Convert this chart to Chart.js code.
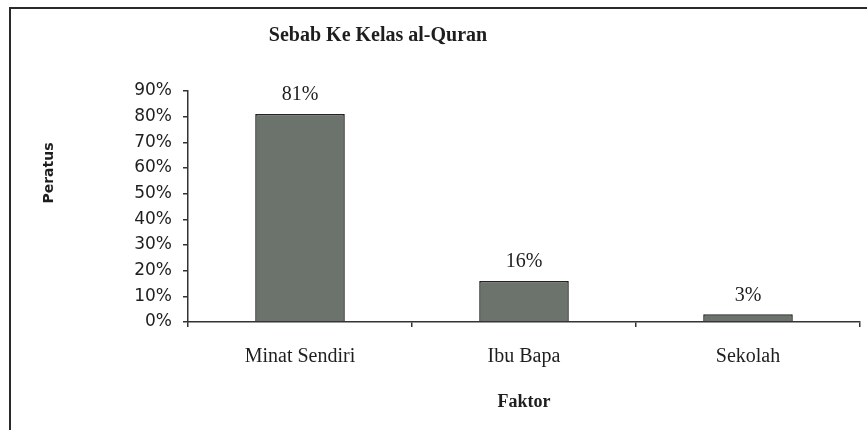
<!DOCTYPE html>
<html>
<head>
<meta charset="utf-8">
<script src="https://cdn.jsdelivr.net/npm/chart.js@4"></script>
<style>
  html, body { margin: 0; padding: 0; background: #fff; }
  #wrap { position: relative; width: 867px; height: 430px; }
</style>
</head>
<body>
<div id="wrap"><canvas id="chart" width="867" height="430"></canvas></div>
<script>
// Chart data
const categories = ["Minat Sendiri", "Ibu Bapa", "Sekolah"];
const percentValues = [81, 16, 3];
const yTicks = [0, 10, 20, 30, 40, 50, 60, 70, 80, 90];
const chartTitle = "Sebab Ke Kelas al-Quran";
const yTitle = "Peratus";
const xTitle = "Faktor";

// Frame, titles and value labels drawn on top of the chart
const extrasPlugin = {
  id: "extras",
  beforeDraw(chart) {
    const ctx = chart.ctx;
    ctx.save();
    ctx.strokeStyle = "#2a2a2a";
    ctx.lineWidth = 2;
    ctx.beginPath();
    ctx.moveTo(10, 430);
    ctx.lineTo(10, 8);
    ctx.lineTo(867, 8);
    ctx.stroke();
    ctx.restore();
  },
  afterDraw(chart) {
    const ctx = chart.ctx;
    ctx.save();
    ctx.fillStyle = "#1e1e1e";
    ctx.textAlign = "center";
    ctx.textBaseline = "middle";

    // chart title
    ctx.font = "bold 20px 'Liberation Serif'";
    ctx.fillText(chartTitle, 378, 36);

    // y axis title
    ctx.save();
    ctx.translate(49, 173);
    ctx.rotate(-Math.PI / 2);
    ctx.font = "bold 14px 'DejaVu Sans'";
    ctx.fillText(yTitle, 0, 0);
    ctx.restore();

    // value labels over bars
    ctx.font = "20px 'Liberation Serif'";
    const meta = chart.getDatasetMeta(0);
    meta.data.forEach((bar, i) => {
      ctx.fillText(percentValues[i] + "%", bar.x, bar.y - 19);
    });
    ctx.restore();
  },
};

const ctx = document.getElementById("chart").getContext("2d");
const chart = new Chart(ctx, {
  type: "bar",
  data: {
    labels: categories,
    datasets: [
      {
        data: percentValues,
        backgroundColor: "#6b736c",
        borderColor: "#222",
        borderWidth: 1.5,
        barPercentage: 0.4,
        categoryPercentage: 1.0,
      },
    ],
  },
  options: {
    responsive: false,
    animation: false,
    layout: { padding: { left: 0, right: 7, top: 91, bottom: 8 } },
    plugins: {
      legend: { display: false },
      tooltip: { enabled: false },
      title: { display: false },
    },
    scales: {
      x: {
        grid: {
          offset: true,
          drawOnChartArea: false,
          drawTicks: true,
          tickLength: 5,
          color: "#333",
          lineWidth: 1.5,
        },
        border: { display: true, color: "#333", width: 1.5 },
        ticks: {
          color: "#1e1e1e",
          padding: 18,
          font: { family: "'Liberation Serif'", size: 20 },
        },
        title: {
          display: true,
          text: xTitle,
          color: "#1e1e1e",
          font: { family: "'Liberation Serif'", size: 18, weight: "bold" },
          padding: { top: 0, bottom: 9 },
        },
        afterFit(scale) {
          scale.height = 100;
        },
      },
      y: {
        min: 0,
        max: 90,
        afterBuildTicks(scale) {
          scale.ticks = yTicks.map((v) => ({ value: v }));
        },
        grid: {
          drawOnChartArea: false,
          drawTicks: true,
          tickLength: 5,
          color: "#333",
          lineWidth: 1.5,
        },
        border: { display: true, color: "#333", width: 1.5 },
        ticks: {
          color: "#1e1e1e",
          padding: 11,
          font: { family: "'DejaVu Sans'", size: 17 },
          callback: (v) => v + "%",
        },
        afterFit(scale) {
          scale.width = 188;
        },
      },
    },
  },
  plugins: [extrasPlugin],
});
</script>
</body>
</html>
